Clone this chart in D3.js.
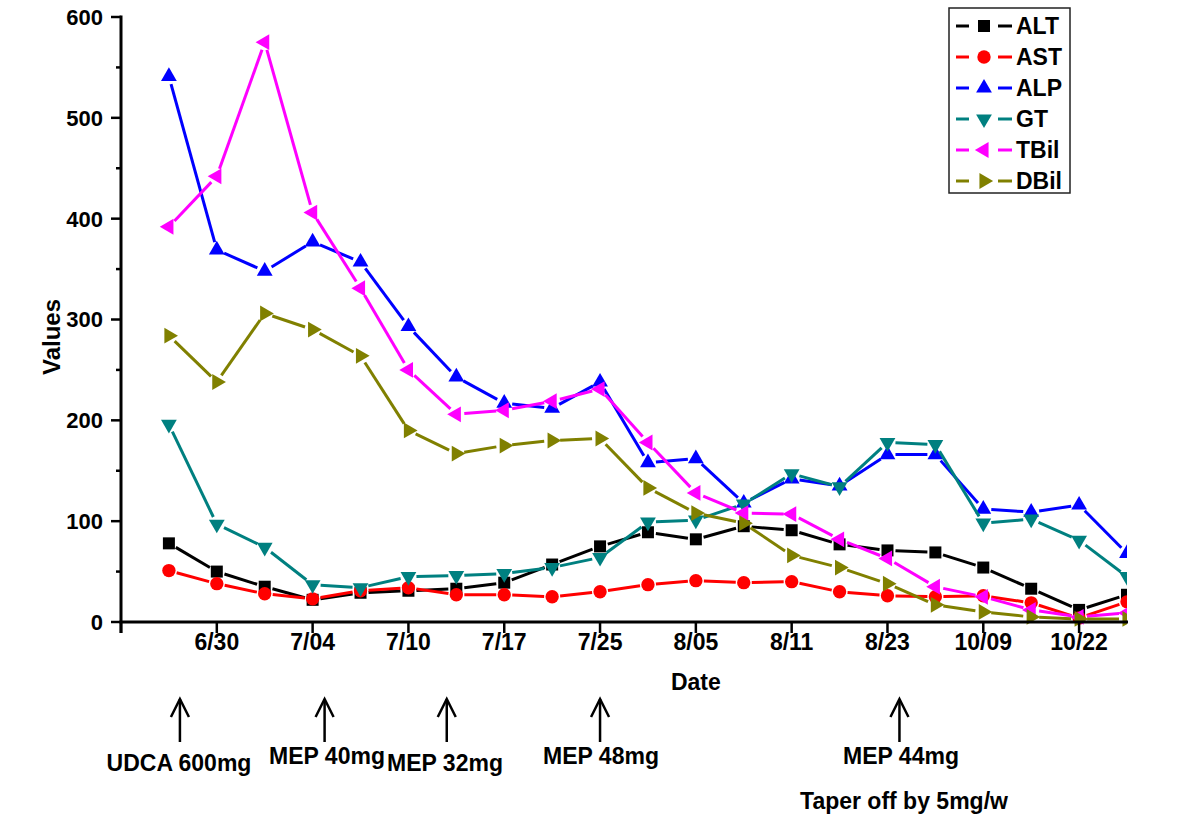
<!DOCTYPE html>
<html>
<head>
<meta charset="utf-8">
<script src="https://cdn.jsdelivr.net/npm/d3@7"></script>
<style>
  html, body { margin: 0; padding: 0; background: #fff; }
  svg { display: block; }
  text { font-family: "Liberation Sans", Arial, sans-serif; font-weight: bold; fill: #000; }
</style>
</head>
<body>
<svg id="chart" width="1200" height="816"></svg>
<script>
// ---- data ----
const tickIdx    = [1, 3, 5, 7, 9, 11, 13, 15, 17, 19];
const tickLabels = ["6/30", "7/04", "7/10", "7/17", "7/25", "8/05", "8/11", "8/23", "10/09", "10/22"];
const seriesNames = ["ALT", "AST", "ALP", "GT", "TBil", "DBil"];
const ALT  = [78, 50, 35, 22, 29, 31, 33, 39, 57, 75, 89, 82, 95, 91, 77, 71, 69, 54, 33, 12, 27];
const AST  = [51, 38, 28, 23, 31, 34, 27, 27, 25, 30, 37, 41, 39, 40, 30, 26, 25, 26, 19, 4, 20];
const ALP  = [541, 369, 348, 377, 357, 293, 243, 217, 212, 238, 158, 162, 118, 142, 135, 166, 166, 112, 109, 116, 68];
const GT   = [196, 97, 74, 37, 34, 45, 46, 48, 54, 64, 99, 101, 117, 147, 134, 178, 176, 98, 102, 81, 45];
const TBil = [392, 442, 575, 406, 331, 250, 206, 210, 219, 231, 178, 128, 108, 107, 82, 63, 35, 25, 12, 5, 9];
const DBil = [284, 238, 306, 290, 264, 190, 167, 175, 180, 182, 133, 108, 98, 66, 54, 38, 17, 10, 5, 3, 3];
const annotations = ["UDCA 600mg", "MEP 40mg", "MEP 32mg", "MEP 48mg", "MEP 44mg"];
const annotIdx    = [0.23, 3.25, 5.8, 9, 15.25];
const annotNote   = "Taper off by 5mg/w";

const seriesValues = [ALT, AST, ALP, GT, TBil, DBil];
const colors  = ["#000000", "#ff0000", "#0000ff", "#008080", "#ff00ff", "#808000"];
const symbols = ["square", "circle", "up", "down", "left", "right"];

const svg = d3.select("#chart");
const x = d3.scaleLinear().domain([-1, 20]).range([121, 1127]);
const y = d3.scaleLinear().domain([0, 600]).range([622, 17]);

// clip
svg.append("defs").append("clipPath").attr("id", "clip")
  .append("rect").attr("x", 121).attr("y", 0).attr("width", 1006).attr("height", 650);

function symPath(kind) {
  if (kind === "square") return d3.symbol(d3.symbolSquare, 144)();
  if (kind === "circle") return d3.symbol(d3.symbolCircle, 140)();
  return d3.symbol(d3.symbolTriangle, 108)();
}
function symRot(kind) {
  return {up: 0, down: 180, left: -90, right: 90}[kind] || 0;
}

// series
const plot = svg.append("g").attr("clip-path", "url(#clip)");
const GAP = 8;
seriesValues.forEach((vals, s) => {
  const g = plot.append("g");
  const pts = vals.map((v, i) => [x(i), y(v)]);
  for (let i = 0; i < pts.length - 1; i++) {
    const [x0, y0] = pts[i], [x1, y1] = pts[i + 1];
    const dx = x1 - x0, dy = y1 - y0, L = Math.hypot(dx, dy);
    if (L <= 2 * GAP) continue;
    const ux = dx / L, uy = dy / L;
    g.append("line")
      .attr("x1", x0 + ux * GAP).attr("y1", y0 + uy * GAP)
      .attr("x2", x1 - ux * GAP).attr("y2", y1 - uy * GAP)
      .attr("stroke", colors[s]).attr("stroke-width", 3);
  }
  g.selectAll("path").data(pts).enter().append("path")
    .attr("d", symPath(symbols[s]))
    .attr("transform", d => `translate(${d[0]},${d[1]}) rotate(${symRot(symbols[s])})`)
    .attr("fill", colors[s]);
});

// axes
const axG = svg.append("g").attr("stroke", "#000").attr("stroke-width", 3);
axG.append("line").attr("x1", 121).attr("x2", 121).attr("y1", y(600) - 1.5).attr("y2", 633);
axG.append("line").attr("x1", 119.5).attr("x2", 1128).attr("y1", 622).attr("y2", 622);
// y ticks
d3.range(0, 601, 50).forEach(v => {
  const major = v % 100 === 0;
  axG.append("line").attr("x1", major ? 111 : 116).attr("x2", 121)
    .attr("y1", y(v)).attr("y2", y(v)).attr("stroke-width", 2.5);
});
y.ticks(6).forEach(v => {
  svg.append("text").attr("x", 103).attr("y", y(v)).attr("dy", "0.36em")
    .attr("text-anchor", "end").attr("font-size", 22).text(v);
});
// x ticks
[-1].concat(tickIdx).forEach(i => {
  axG.append("line").attr("x1", x(i)).attr("x2", x(i)).attr("y1", 622).attr("y2", 633)
    .attr("stroke-width", 2.5);
});
tickIdx.forEach((i, k) => {
  svg.append("text").attr("x", x(i)).attr("y", 650).attr("text-anchor", "middle")
    .attr("font-size", 23).text(tickLabels[k]);
});

// axis titles
svg.append("text").attr("x", x(11)).attr("y", 690).attr("text-anchor", "middle")
  .attr("font-size", 23).text("Date");
svg.append("text").attr("transform", "translate(60,337) rotate(-90)")
  .attr("text-anchor", "middle").attr("font-size", 24).text("Values");

// legend
const lg = svg.append("g");
lg.append("rect").attr("x", 949).attr("y", 8).attr("width", 121).attr("height", 185)
  .attr("fill", "none").attr("stroke", "#222").attr("stroke-width", 1.5);
seriesNames.forEach((name, s) => {
  const ry = 26 + s * 31;
  lg.append("line").attr("x1", 956).attr("x2", 969).attr("y1", ry).attr("y2", ry)
    .attr("stroke", colors[s]).attr("stroke-width", 3);
  lg.append("line").attr("x1", 998).attr("x2", 1012).attr("y1", ry).attr("y2", ry)
    .attr("stroke", colors[s]).attr("stroke-width", 3);
  lg.append("path").attr("d", symPath(symbols[s]))
    .attr("transform", `translate(984,${ry}) rotate(${symRot(symbols[s])})`)
    .attr("fill", colors[s]);
  lg.append("text").attr("x", 1016).attr("y", ry).attr("dy", "0.36em")
    .attr("font-size", 23).text(name);
});

// annotations (arrows + labels)
const an = svg.append("g");
const textY = [771, 764, 771, 764, 764];
annotIdx.forEach((i, k) => {
  const ax = x(i);
  an.append("line").attr("x1", ax).attr("x2", ax).attr("y1", 699).attr("y2", 742)
    .attr("stroke", "#000").attr("stroke-width", 2.5);
  an.append("path").attr("d", `M${ax - 9},${717} L${ax},${699} L${ax + 9},${717}`)
    .attr("fill", "none").attr("stroke", "#000").attr("stroke-width", 2.5);
});
const textX = [179, 327, 445, 601, 901];
annotations.forEach((t, k) => {
  an.append("text").attr("x", textX[k]).attr("y", textY[k]).attr("text-anchor", "middle")
    .attr("font-size", 23).text(t);
});
an.append("text").attr("x", 904).attr("y", 809).attr("text-anchor", "middle")
  .attr("font-size", 23).text(annotNote);
</script>
</body>
</html>
